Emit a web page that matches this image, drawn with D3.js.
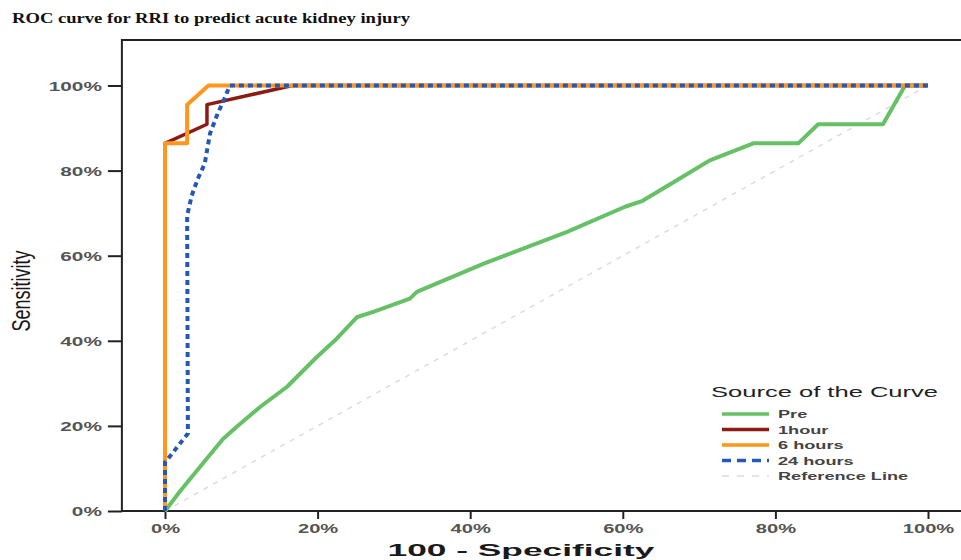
<!DOCTYPE html>
<html>
<head>
<meta charset="utf-8">
<script src="https://cdn.jsdelivr.net/npm/d3@7/dist/d3.min.js"></script>
<style>
  body { margin: 0; background: #fff; }
  svg { display: block; }
</style>
</head>
<body>
<div id="chart"></div>
<script>
// ROC curves, x = 100 - specificity (%), y = sensitivity (%)
var prePts = [[0,0],[2,4.7],[4.6,10.4],[7.6,16.9],[9.4,19.8],[12.5,24.5],[16,29.2],[19.9,36.2],[22.5,40.5],[25.2,45.6],[27.3,46.8],[32.1,49.9],[33,51.5],[41.7,58.1],[52.7,65.6],[60.3,71.5],[62.6,72.9],[67.9,78.6],[71.4,82.4],[77.1,86.4],[83,86.4],[85.6,90.9],[94.1,90.9],[97,100],[100,100]];
var oneHourPts = [[0,0],[0,86.4],[5.5,90.9],[5.5,95.5],[16.7,100],[100,100]];
var sixHoursPts = [[0,0],[0,86.4],[2.9,86.4],[2.9,95.5],[5.7,100],[100,100]];
var day24Pts = [[0,0],[0,11.4],[3,18.2],[2.9,69.4],[3.5,74.1],[4.3,78.1],[5.2,81.6],[5.9,88.7],[6.9,93.4],[7.7,96.5],[8.5,100],[100,100]];
var refPts = [[0,0],[100,100]];

var tickValues = [0,20,40,60,80,100];
var seriesNames = ['Pre','1hour','6 hours','24 hours','Reference Line'];
var seriesColors = ['#66c166','#8c1c13','#ff961f','#2358b8','#dcdcdc'];
var seriesDash = [null,null,null,'5,4','5,6'];
var seriesWidth = [4,3.5,4,4,1.5];
var seriesData = [prePts, oneHourPts, sixHoursPts, day24Pts, refPts];

var W = 961, H = 560;
var svg = d3.select('#chart').append('svg')
	.attr('width', W)
	.attr('height', H);

var x = d3.scaleLinear().domain([0,100]).range([165,928]);
var y = d3.scaleLinear().domain([0,100]).range([511,85.5]);

// horizontally stretched text, like the original bitmap
function stretch(sel, s) {
	sel.each(function() {
		var w = this.getComputedTextLength();
		d3.select(this).attr('textLength', w * s).attr('lengthAdjust', 'spacingAndGlyphs');
	});
}

svg.append('text')
	.attr('x', 12)
	.attr('y', 23)
	.attr('font-family', '"Liberation Serif", "Times New Roman", serif')
	.attr('font-weight', 'bold')
	.attr('font-size', 15)
	.attr('fill', '#111')
	.attr('textLength', 398)
	.attr('lengthAdjust', 'spacingAndGlyphs')
	.text('ROC curve for RRI to predict acute kidney injury');

var frameLeft = x(-5.65), frameTop = y(110.7), frameBottom = y(0);

// y axis
var yAxis = svg.append('g')
	.attr('transform', 'translate(' + frameLeft + ',0)')
	.call(d3.axisLeft(y).tickValues(tickValues).tickSize(14).tickSizeOuter(0).tickFormat(function(d) { return d + '%'; }));
yAxis.select('.domain').remove();
yAxis.selectAll('line').attr('stroke', '#222').attr('stroke-width', 2);
yAxis.selectAll('text')
	.attr('x', -20)
	.attr('dy', '0.36em')
	.attr('font-family', '"Liberation Sans", Arial, sans-serif')
	.attr('font-weight', 'bold')
	.attr('font-size', 13)
	.attr('fill', '#555')
	.call(stretch, 1.6);

// x axis
var xAxis = svg.append('g')
	.attr('transform', 'translate(0,' + frameBottom + ')')
	.call(d3.axisBottom(x).tickValues(tickValues).tickSize(8).tickSizeOuter(0).tickFormat(function(d) { return d + '%'; }));
xAxis.select('.domain').remove();
xAxis.selectAll('line').attr('stroke', '#222').attr('stroke-width', 2);
xAxis.selectAll('text')
	.attr('y', 13)
	.attr('dy', '0.71em')
	.attr('font-family', '"Liberation Sans", Arial, sans-serif')
	.attr('font-weight', 'bold')
	.attr('font-size', 13)
	.attr('fill', '#555')
	.call(stretch, 1.55);

// frame: top, left, bottom
svg.append('path')
	.attr('d', 'M' + W + ',' + frameTop + 'H' + frameLeft + 'V' + frameBottom + 'H' + W)
	.attr('fill', 'none')
	.attr('stroke', '#222')
	.attr('stroke-width', 2);

// axis titles
svg.append('text')
	.attr('x', 521)
	.attr('y', 556)
	.attr('text-anchor', 'middle')
	.attr('font-family', '"Liberation Sans", Arial, sans-serif')
	.attr('font-weight', 'bold')
	.attr('font-size', 17)
	.attr('fill', '#1a1a1a')
	.attr('textLength', 267)
	.attr('lengthAdjust', 'spacingAndGlyphs')
	.text('100 - Specificity');

svg.append('text')
	.attr('transform', 'translate(30,291) scale(1.45,1) rotate(-90)')
	.attr('text-anchor', 'middle')
	.attr('font-family', '"Liberation Sans Narrow", "Liberation Sans", Arial, sans-serif')
	.attr('font-size', 18)
	.attr('fill', '#1a1a1a')
	.text('Sensitivity');

// curves
var line = d3.line()
	.x(function(d) { return x(d[0]); })
	.y(function(d) { return y(d[1]); });

var order = [4,0,1,2,3];
order.forEach(function(i) {
	svg.append('path')
		.datum(seriesData[i])
		.attr('d', line)
		.attr('fill', 'none')
		.attr('stroke', seriesColors[i])
		.attr('stroke-width', seriesWidth[i])
		.attr('stroke-dasharray', seriesDash[i])
		.attr('stroke-linejoin', 'round');
});

// legend
var legend = svg.append('g');
legend.append('text')
	.attr('x', 711)
	.attr('y', 397)
	.attr('font-family', '"Liberation Sans", Arial, sans-serif')
	.attr('font-size', 15)
	.attr('fill', '#222')
	.attr('textLength', 227)
	.attr('lengthAdjust', 'spacingAndGlyphs')
	.text('Source of the Curve');

var rows = legend.selectAll('g.row')
	.data(seriesNames)
	.enter().append('g')
	.attr('class', 'row')
	.attr('transform', function(d, i) { return 'translate(0,' + (414 + i * 15.5) + ')'; });

rows.append('line')
	.attr('x1', 722)
	.attr('x2', 769)
	.attr('stroke', function(d, i) { return seriesColors[i]; })
	.attr('stroke-width', function(d, i) { return i === 4 ? 1.5 : 3.5; })
	.attr('stroke-dasharray', function(d, i) { return i === 3 ? '9,6' : (i === 4 ? '7,8' : null); });

rows.append('text')
	.attr('x', 778)
	.attr('y', 4)
	.attr('font-family', '"Liberation Sans", Arial, sans-serif')
	.attr('font-weight', 'bold')
	.attr('font-size', 11)
	.attr('fill', '#444')
	.text(function(d) { return d; })
	.call(stretch, 1.65);
</script>
</body>
</html>
